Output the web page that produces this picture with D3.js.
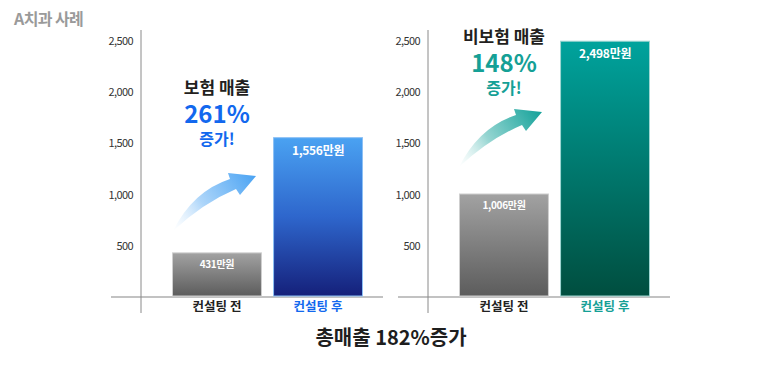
<!DOCTYPE html>
<html>
<head>
  <meta charset="utf-8">
  <script src="https://d3js.org/d3.v7.min.js"></script>
  <style>
    body { margin:0; background:#fff; }
    text { font-family: "Noto Sans CJK KR", "Noto Sans", sans-serif; }
    .tick text { font-size: 11px; fill: #333; letter-spacing: -0.6px; }
  </style>
</head>
<body>
  <script>
    // chart data
    var categories = ["컨설팅 전", "컨설팅 후"];
    var panelTitles = ["보험 매출", "비보험 매출"];
    var insuranceValues = [431, 1556];
    var nonInsuranceValues = [1006, 2498];
    var growthLabels = ["261%", "148%"];
    var yTicks = [500, 1000, 1500, 2000, 2500];
    var chartTitle = "A치과 사례";
    var totalLabel = "총매출 182%증가";

    var width = 780, height = 374;
    var baseY = 297, topY = 41;

    var svg = d3.select("body").append("svg")
        .attr("width", width)
        .attr("height", height);

    var defs = svg.append("defs");

    function vGrad(id, stops) {
      var g = defs.append("linearGradient").attr("id", id)
          .attr("x1", 0).attr("y1", 0).attr("x2", 0).attr("y2", 1);
      stops.forEach(s => {
        g.append("stop").attr("offset", s[0]).attr("stop-color", s[1]);
      });
    }
    vGrad("gray", [[0, "#a2a2a2"], [1, "#5c5c5c"]]);
    vGrad("blue", [[0, "#4aa2f2"], [0.5, "#2e66cc"], [1, "#15207a"]]);
    vGrad("teal", [[0, "#00a39d"], [1, "#004e3f"]]);

    function arrowGrad(id, color) {
      var g = defs.append("linearGradient").attr("id", id)
          .attr("gradientUnits", "userSpaceOnUse")
          .attr("x1", 0).attr("y1", 0).attr("x2", 83).attr("y2", -55);
      g.append("stop").attr("offset", 0).attr("stop-color", "#fff").attr("stop-opacity", 0.2);
      g.append("stop").attr("offset", 0.4).attr("stop-color", color).attr("stop-opacity", 0.45);
      g.append("stop").attr("offset", 1).attr("stop-color", color);
    }
    arrowGrad("arrowBlue", "#4aa3f3");
    arrowGrad("arrowTeal", "#14a29a");

    var y = d3.scaleLinear().domain([0, 2500]).range([baseY, topY]);

    var panels = [
      { title: panelTitles[0], values: insuranceValues, growth: growthLabels[0],
        axisX: 141, barX: 172, afterFill: "url(#blue)", afterStroke: "#8cc0f5",
        accent: "#1268ee", arrow: "url(#arrowBlue)", titleY: 88, tail: [173, 231] },
      { title: panelTitles[1], values: nonInsuranceValues, growth: growthLabels[1],
        axisX: 428, barX: 459, afterFill: "url(#teal)", afterStroke: "#9fd6d2",
        accent: "#15a096", arrow: "url(#arrowTeal)", titleY: 37, tail: [459, 167] }
    ];

    var fmt = d3.format(",");

    panels.forEach(p => {
      var g = svg.append("g");

      var x = d3.scaleBand()
          .domain(categories)
          .range([p.barX, p.barX + 191])
          .paddingInner(0.11)
          .paddingOuter(0);

      // baseline
      g.append("line")
          .attr("x1", p.axisX - 30).attr("x2", p.axisX + 242)
          .attr("y1", baseY).attr("y2", baseY)
          .attr("stroke", "#c2c2c2").attr("stroke-width", 2);

      // vertical axis line
      g.append("line")
          .attr("x1", p.axisX).attr("x2", p.axisX)
          .attr("y1", 30).attr("y2", 313)
          .attr("stroke", "#8a8a8a").attr("stroke-width", 1);

      var yAxis = d3.axisLeft(y).tickValues(yTicks).tickSize(0).tickPadding(0)
          .tickFormat(fmt);
      g.append("g")
          .attr("class", "y axis")
          .attr("transform", "translate(" + (p.axisX - 8) + ",0)")
          .call(yAxis)
          .call(a => a.select(".domain").remove());

      // bars
      g.selectAll(".bar")
          .data(p.values)
          .enter().append("rect")
          .attr("class", "bar")
          .attr("x", (d, i) => x(categories[i]) + 0.5)
          .attr("width", x.bandwidth() - 1)
          .attr("y", d => y(d))
          .attr("height", d => baseY - 1 - y(d))
          .attr("fill", (d, i) => i === 0 ? "url(#gray)" : p.afterFill)
          .attr("stroke", (d, i) => i === 0 ? "#cfcfcf" : p.afterStroke)
          .attr("stroke-width", 1);

      // value labels
      g.selectAll(".val")
          .data(p.values)
          .enter().append("text")
          .attr("x", (d, i) => x(categories[i]) + x.bandwidth() / 2)
          .attr("y", (d, i) => y(d) + (i === 0 ? 12 : 13))
          .attr("dy", "0.35em")
          .attr("text-anchor", "middle")
          .attr("fill", "#fff")
          .attr("font-weight", "bold")
          .attr("font-size", (d, i) => i === 0 ? "10px" : "12px")
          .attr("letter-spacing", "-0.3px")
          .text(d => fmt(d) + "만원");

      // category labels
      g.selectAll(".cat")
          .data(categories)
          .enter().append("text")
          .attr("x", d => x(d) + x.bandwidth() / 2)
          .attr("y", 307)
          .attr("dy", "0.35em")
          .attr("text-anchor", "middle")
          .attr("font-size", "12.5px")
          .attr("font-weight", "bold")
          .attr("fill", (d, i) => i === 0 ? "#222" : p.accent)
          .text(d => d);

      // annotation
      var cx = x(categories[0]) + x.bandwidth() / 2;
      g.append("text")
          .attr("x", cx).attr("y", p.titleY).attr("dy", "0.35em")
          .attr("text-anchor", "middle")
          .attr("font-size", "17px").attr("font-weight", "bold")
          .attr("fill", "#231f20")
          .text(p.title);
      g.append("text")
          .attr("x", cx).attr("y", p.titleY + 27).attr("dy", "0.35em")
          .attr("text-anchor", "middle")
          .attr("font-size", "24px").attr("font-weight", "bold")
          .attr("fill", p.accent)
          .text(p.growth);
      g.append("text")
          .attr("x", cx).attr("y", p.titleY + 51).attr("dy", "0.35em")
          .attr("text-anchor", "middle")
          .attr("font-size", "16px").attr("font-weight", "bold")
          .attr("fill", p.accent)
          .text("증가!");

      // curved arrow
      g.append("path")
          .attr("transform", "translate(" + p.tail[0] + "," + p.tail[1] + ")")
          .attr("d", "M0,0 Q20,-40 57,-52 L55,-58 L83,-55 L67,-36 L63,-42 Q30,-28 0,0 Z")
          .attr("fill", p.arrow);
    });

    svg.append("text")
        .attr("x", 14).attr("y", 19).attr("dy", "0.35em")
        .attr("font-size", "16px").attr("font-weight", "bold")
        .attr("fill", "#9a9a9a")
        .attr("letter-spacing", "-0.6px")
        .text(chartTitle);

    svg.append("text")
        .attr("x", 391).attr("y", 338).attr("dy", "0.35em")
        .attr("text-anchor", "middle")
        .attr("font-size", "20px").attr("font-weight", "bold")
        .attr("fill", "#1e1e1e")
        .text(totalLabel);
  </script>
</body>
</html>
